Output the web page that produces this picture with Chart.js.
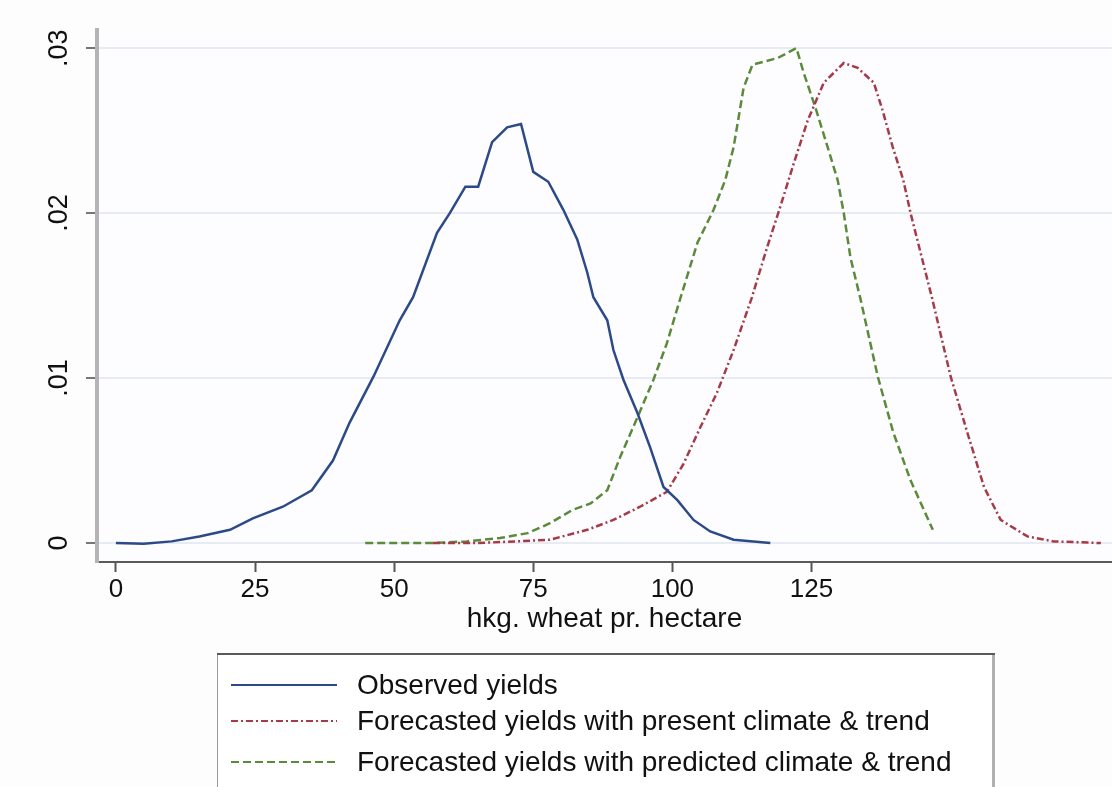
<!DOCTYPE html>
<html>
<head>
<meta charset="utf-8">
<script src="https://cdn.jsdelivr.net/npm/chart.js@4.4.1/dist/chart.umd.min.js"></script>
<style>
  html, body { margin: 0; padding: 0; background: #fdfdfd; }
  #wrap { position: relative; width: 1112px; height: 787px; }
</style>
</head>
<body>
<div id="wrap"><canvas id="chart" width="1112" height="787"></canvas></div>
<script>
// values (x = hkg per hectare, y = density)
const observedX = [0, 5, 10, 15, 20.5, 24.6, 30, 35.2, 39, 42, 46.3, 51, 53.4, 57.7, 60, 62.8, 65.1, 67.6, 70.3, 72.8, 75, 77.7, 80.4, 82.9, 84.7, 85.8, 88.3, 89.4, 91.2, 93.7, 96, 98.4, 100.9, 103.8, 106.8, 111, 117.6];
const observedY = [0, -0.00005, 0.0001, 0.0004, 0.0008, 0.0015, 0.0022, 0.0032, 0.005, 0.0073, 0.0101, 0.0135, 0.0149, 0.0188, 0.02, 0.0216, 0.0216, 0.0243, 0.0252, 0.0254, 0.0225, 0.0219, 0.0202, 0.0184, 0.0164, 0.0149, 0.0135, 0.0117, 0.0099, 0.0079, 0.0058, 0.0034, 0.0026, 0.0014, 0.0007, 0.0002, 0];

const presentX = [57, 65, 72, 78, 84.7, 89.4, 94.2, 99, 102, 105, 108, 111, 114.2, 117, 119.4, 121.8, 124.3, 127.2, 130.8, 133.3, 136.2, 137.8, 139.6, 141.5, 142.8, 144.6, 146.7, 150, 153, 156, 159, 163.8, 168.5, 177];
const presentY = [0, 0, 0.0001, 0.0002, 0.0008, 0.0014, 0.0022, 0.0031, 0.0048, 0.007, 0.0091, 0.0117, 0.0148, 0.0179, 0.0204, 0.023, 0.0256, 0.0279, 0.0291, 0.0288, 0.0279, 0.0262, 0.024, 0.022, 0.02, 0.0176, 0.0148, 0.0101, 0.0067, 0.0034, 0.0014, 0.0004, 0.0001, 0];

const predictedX = [44.8, 51, 57, 63, 69, 74, 78, 82, 85.3, 88.3, 90.6, 93.7, 96.6, 99, 101.4, 104.5, 107.4, 109.5, 111, 112.8, 114.4, 118.9, 122.3, 123.6, 125.7, 127.9, 129.7, 130.8, 132, 133.8, 136.9, 139.7, 142.8, 146.8];
const predictedY = [0, 0, 0, 0.0001, 0.0003, 0.0006, 0.0012, 0.002, 0.0024, 0.0032, 0.0052, 0.0076, 0.0099, 0.0121, 0.0148, 0.0182, 0.0202, 0.022, 0.024, 0.0276, 0.029, 0.0294, 0.03, 0.0285, 0.0264, 0.024, 0.022, 0.02, 0.0173, 0.0148, 0.0101, 0.0067, 0.0038, 0.0008];

const seriesNames = [
  "Observed yields",
  "Forecasted yields with present climate & trend",
  "Forecasted yields with predicted climate & trend",
];
const xTicks = [0, 25, 50, 75, 100, 125];
const yTicks = [0, 0.01, 0.02, 0.03];
const yTickLabels = ["0", ".01", ".02", ".03"];
const xTitle = "hkg. wheat pr. hectare";

const FONT = "'Liberation Sans', Arial, sans-serif";

function toPoints(xs, ys) {
  return xs.map((x, i) => ({ x, y: ys[i] }));
}

const plotBackground = {
  id: "plotBackground",
  beforeDraw(chart) {
    const { ctx, chartArea: a } = chart;
    ctx.save();
    ctx.fillStyle = "#fdfdff";
    ctx.fillRect(a.left, a.top, a.right - a.left, a.bottom - a.top);
    ctx.restore();
  },
};

// legend box under the plot, drawn from the dataset styles
const boxLegend = {
  id: "boxLegend",
  afterDraw(chart) {
    const { ctx } = chart;
    const left = 217, right = 995, top = 653, bottom = 800;
    const rows = [685, 721, 762];
    ctx.save();
    ctx.fillStyle = "#ffffff";
    ctx.fillRect(left, top, right - left, bottom - top);
    ctx.lineWidth = 1;
    ctx.strokeStyle = "#9a9a9a";
    ctx.beginPath();
    ctx.moveTo(left + 0.5, top);
    ctx.lineTo(left + 0.5, bottom);
    ctx.stroke();
    ctx.lineWidth = 3;
    ctx.strokeStyle = "#b0b0b0";
    ctx.beginPath();
    ctx.moveTo(right - 1.5, top);
    ctx.lineTo(right - 1.5, bottom);
    ctx.stroke();
    ctx.lineWidth = 2;
    ctx.strokeStyle = "#5a5a5a";
    ctx.beginPath();
    ctx.moveTo(left, top + 1);
    ctx.lineTo(right, top + 1);
    ctx.stroke();

    chart.data.datasets.forEach((ds, i) => {
      const y = rows[i];
      ctx.strokeStyle = ds.borderColor;
      ctx.lineWidth = 2;
      ctx.setLineDash(ds.borderDash || []);
      ctx.beginPath();
      ctx.moveTo(231, y);
      ctx.lineTo(337, y);
      ctx.stroke();
      ctx.setLineDash([]);
      ctx.fillStyle = "#111111";
      ctx.font = "28px " + FONT;
      ctx.textBaseline = "middle";
      ctx.fillText(ds.label, 357, y + 1);
    });
    ctx.restore();
  },
};

new Chart(document.getElementById("chart"), {
  type: "line",
  data: {
    datasets: [
      {
        label: seriesNames[0],
        data: toPoints(observedX, observedY),
        borderColor: "#2d4a88",
        borderWidth: 2.5,
      },
      {
        label: seriesNames[1],
        data: toPoints(presentX, presentY),
        borderColor: "#a63a46",
        borderWidth: 2.5,
        borderDash: [7, 3, 2, 3],
      },
      {
        label: seriesNames[2],
        data: toPoints(predictedX, predictedY),
        borderColor: "#5b8a3a",
        borderWidth: 2.5,
        borderDash: [8, 4],
      },
    ],
  },
  options: {
    responsive: false,
    animation: false,
    elements: { point: { radius: 0 }, line: { tension: 0 } },
    layout: { padding: { left: 0, right: 0, top: 30, bottom: 151 } },
    plugins: {
      legend: { display: false },
      tooltip: { enabled: false },
    },
    scales: {
      x: {
        type: "linear",
        min: -3.4,
        max: 179,
        afterBuildTicks: (scale) => {
          scale.ticks = xTicks.map((v) => ({ value: v }));
        },
        afterFit: (scale) => {
          scale.height = 74;
        },
        ticks: {
          color: "#111111",
          font: { family: FONT, size: 26 },
          padding: 2,
          maxRotation: 0,
          autoSkip: false,
        },
        grid: {
          drawOnChartArea: false,
          drawTicks: true,
          tickLength: 10,
          tickColor: "#555555",
          tickWidth: 2,
        },
        border: { color: "#5a5a5a", width: 2 },
        title: {
          display: true,
          text: xTitle,
          color: "#111111",
          font: { family: FONT, size: 28 },
          padding: { top: 0, bottom: 0 },
        },
      },
      y: {
        type: "linear",
        min: -0.00115,
        max: 0.0311,
        afterBuildTicks: (scale) => {
          scale.ticks = yTicks.map((v) => ({ value: v }));
        },
        afterFit: (scale) => {
          scale.width = 97;
        },
        ticks: {
          color: "#111111",
          font: { family: FONT, size: 27 },
          minRotation: 90,
          maxRotation: 90,
          crossAlign: "center",
          padding: 8,
          callback: (value) => {
            const i = yTicks.findIndex((t) => Math.abs(t - value) < 1e-9);
            return i >= 0 ? yTickLabels[i] : "";
          },
        },
        grid: {
          color: "#e6ebf4",
          lineWidth: 2,
          tickLength: 11,
          tickColor: "#777777",
          tickWidth: 2,
        },
        border: { color: "#b4b4b4", width: 4 },
      },
    },
  },
  plugins: [plotBackground, boxLegend],
});
</script>
</body>
</html>
